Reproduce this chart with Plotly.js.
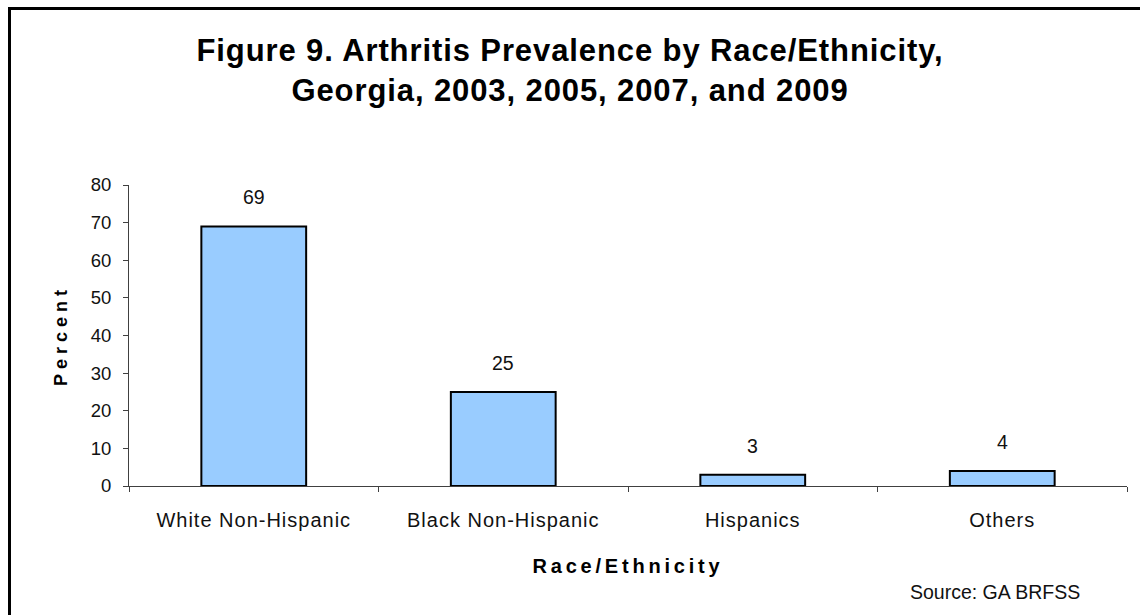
<!DOCTYPE html>
<html>
<head>
<meta charset="utf-8">
<script src="https://cdn.plot.ly/plotly-3.0.1.min.js"></script>
<style>
  html, body { margin: 0; padding: 0; background: #ffffff; }
  #chart { width: 1140px; height: 615px; }
  .gtitle { letter-spacing: 0.9px; }
  .ytitle { letter-spacing: 5px; }
  .xtitle { letter-spacing: 3.8px; }
  .xtick text { letter-spacing: 1px; }
</style>
</head>
<body>
<div id="chart"></div>
<script>
// Arthritis prevalence (%) by race/ethnicity, Georgia BRFSS 2003-2009
const categories = ['White Non-Hispanic', 'Black Non-Hispanic', 'Hispanics', 'Others'];
const percents = [69, 25, 3, 4];
const yTicks = [0, 10, 20, 30, 40, 50, 60, 70, 80];

const FONT = 'Liberation Sans, Arial, Helvetica, sans-serif';
const W = 1140, H = 615;
const margin = { l: 129, r: 13, t: 185, b: 129 };
const plotW = W - margin.l - margin.r;
const plotH = H - margin.t - margin.b;

// convert page pixels to paper fractions (for the outer frame and the source note)
const px = x => (x - margin.l) / plotW;
const py = y => (H - margin.b - y) / plotH;

const trace = {
  type: 'bar',
  x: categories,
  y: percents,
  width: 0.42,
  marker: { color: '#99CCFF', line: { color: '#000000', width: 2 } },
  hoverinfo: 'x+y'
};

const valueLabels = categories.map((c, i) => ({
  x: c,
  y: percents[i],
  xref: 'x',
  yref: 'y',
  text: String(percents[i]),
  showarrow: false,
  yanchor: 'middle',
  yshift: 29,
  font: { family: FONT, size: 19.5, color: '#111111' }
}));

const layout = {
  width: W,
  height: H,
  margin: margin,
  paper_bgcolor: '#ffffff',
  plot_bgcolor: '#ffffff',
  showlegend: false,
  title: {
    text: 'Figure 9. Arthritis Prevalence by Race/Ethnicity,<br>Georgia, 2003, 2005, 2007, and 2009',
    font: { family: FONT, size: 31, color: '#000000', weight: 'bold' },
    xref: 'container',
    x: 0.5,
    xanchor: 'center',
    yref: 'container',
    y: 1 - 61 / H,
    yanchor: 'top'
  },
  xaxis: {
    type: 'category',
    range: [-0.5, categories.length - 0.5],
    showline: true,
    linecolor: '#404040',
    linewidth: 1,
    ticks: 'outside',
    tickson: 'boundaries',
    ticklen: 5,
    tickcolor: '#404040',
    tickwidth: 1,
    showgrid: false,
    zeroline: false,
    ticklabelstandoff: 16,
    tickfont: { family: FONT, size: 20, color: '#111111' },
    title: {
      text: 'Race/Ethnicity',
      standoff: 28,
      font: { family: FONT, size: 20, color: '#000000', weight: 'bold' }
    },
    fixedrange: true
  },
  yaxis: {
    range: [0, 80],
    tickvals: yTicks,
    ticktext: yTicks.map(String),
    showline: true,
    linecolor: '#404040',
    linewidth: 1,
    ticks: 'outside',
    ticklen: 5,
    tickcolor: '#404040',
    tickwidth: 1,
    showgrid: false,
    zeroline: false,
    ticklabelstandoff: 8,
    tickfont: { family: FONT, size: 18.5, color: '#111111' },
    title: {
      text: 'Percent',
      standoff: 18,
      font: { family: FONT, size: 18, color: '#000000', weight: 'bold' }
    },
    fixedrange: true
  },
  annotations: valueLabels.concat([{
    xref: 'paper',
    yref: 'paper',
    x: px(1082),
    y: py(592),
    xanchor: 'right',
    yanchor: 'middle',
    text: 'Source: GA BRFSS',
    showarrow: false,
    font: { family: FONT, size: 19.5, color: '#111111' }
  }]),
  shapes: [{
    type: 'path',
    xref: 'paper',
    yref: 'paper',
    path: 'M ' + px(9.5) + ',' + py(630) + ' L ' + px(9.5) + ',' + py(8.5) + ' L ' + px(1150) + ',' + py(8.5),
    line: { color: '#000000', width: 3 },
    layer: 'above'
  }]
};

Plotly.newPlot('chart', [trace], layout, { displayModeBar: false, staticPlot: true });
</script>
</body>
</html>
